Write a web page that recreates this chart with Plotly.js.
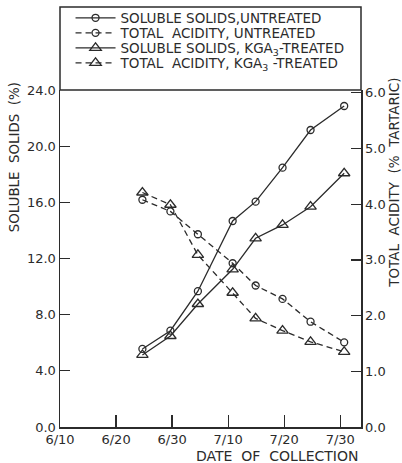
<!DOCTYPE html>
<html><head><meta charset="utf-8">
<script src="https://cdn.plot.ly/plotly-3.0.1.min.js"></script>
<style>html,body{margin:0;padding:0;background:#fff;}#c{width:402px;height:463px;}</style>
</head><body><div id="c"></div>
<script>
// days after 6/10
const collectionDays = [14.7, 19.7, 24.6, 30.8, 34.9, 39.7, 44.7, 50.7];
const solidsUntreated = [5.56, 6.86, 9.67, 14.67, 16.05, 18.47, 21.15, 22.86];
const acidityUntreated = [4.08, 3.87, 3.46, 2.94, 2.54, 2.30, 1.89, 1.52];
const solidsTreated = [5.13, 6.48, 8.76, 11.23, 13.44, 14.39, 15.69, 18.07];
const acidityTreated = [4.21, 3.99, 3.09, 2.41, 1.95, 1.73, 1.53, 1.35];
const xTickVals = [0, 10, 20, 30, 40, 50];
const xTickText = ["6/10", "6/20", "6/30", "7/10", "7/20", "7/30"];
const leftTicks = [0, 4, 8, 12, 16, 20, 24];
const rightTicks = [0, 1, 2, 3, 4, 5, 6];

const ink = "#2b2b2b";
const fnt = "'DejaVu Sans', sans-serif";

const traces = [
  {x: collectionDays, y: solidsUntreated, name: "SOLUBLE SOLIDS,UNTREATED", mode: "lines+markers", legend: "legend",
   line: {color: ink, width: 1.3}, marker: {symbol: "circle-open", size: 7, color: ink, line: {width: 1.3}}},
  {x: collectionDays, y: acidityUntreated, name: "TOTAL  ACIDITY, UNTREATED", yaxis: "y2", mode: "lines+markers", legend: "legend2",
   line: {color: ink, width: 1.3, dash: "6px,4px"}, marker: {symbol: "circle-open", size: 7, color: ink, line: {width: 1.3}}},
  {x: collectionDays, y: solidsTreated, name: "SOLUBLE SOLIDS, KGA<sub>3</sub>-TREATED", mode: "lines+markers", legend: "legend3",
   line: {color: ink, width: 1.3}, marker: {symbol: "triangle-up-open", size: 10, color: ink, line: {width: 1.3}}},
  {x: collectionDays, y: acidityTreated, name: "TOTAL  ACIDITY, KGA<sub>3</sub> -TREATED", yaxis: "y2", mode: "lines+markers", legend: "legend4",
   line: {color: ink, width: 1.3, dash: "6px,4px"}, marker: {symbol: "triangle-up-open", size: 10, color: ink, line: {width: 1.3}}}
];

function leg(y) {
  return {x: 0.035, y: y, xanchor: "left", yanchor: "middle", bgcolor: "rgba(0,0,0,0)", borderwidth: 0,
          font: {family: fnt, size: 13.5, color: ink}, itemwidth: 40};
}

const axisCommon = {tickcolor: ink, tickwidth: 1.3, showline: true, linecolor: ink, linewidth: 1.5,
                    showgrid: false, zeroline: false, tickfont: {family: fnt, size: 13, color: ink}};

const layout = {
  width: 402, height: 463,
  margin: {l: 60, r: 41, t: 90, b: 36, autoexpand: false},
  paper_bgcolor: "#fff", plot_bgcolor: "#fff",
  font: {family: fnt, size: 13, color: ink},
  showlegend: true,
  legend: leg(1.2136), legend2: leg(1.169), legend3: leg(1.1246), legend4: leg(1.080),
  xaxis: Object.assign({range: [0, 53.7], tickvals: xTickVals, ticktext: xTickText, ticks: "inside", ticklen: 12}, axisCommon),
  yaxis: Object.assign({range: [0, 24], tickvals: leftTicks, ticktext: leftTicks.map(v => v.toFixed(1)), ticks: "inside", ticklen: 10}, axisCommon),
  yaxis2: Object.assign({range: [0, 6.05], overlaying: "y", side: "right", tickvals: rightTicks,
           ticktext: rightTicks.map(v => v.toFixed(1)), ticks: "inside", ticklen: 10}, axisCommon),
  shapes: [
    {type: "rect", xref: "paper", yref: "paper", x0: 0, x1: 1, y0: 1, y1: 1 + 83/337,
     line: {color: ink, width: 1.5}, fillcolor: "rgba(0,0,0,0)"}
  ],
  annotations: [
    {text: "SOLUBLE  SOLIDS  (%)", xref: "paper", yref: "paper", x: -0.15, y: 0.80, textangle: -90,
     showarrow: false, font: {family: fnt, size: 13.4, color: ink}, xanchor: "center", yanchor: "middle"},
    {text: "TOTAL  ACIDITY  (%  TARTARIC)", xref: "paper", yref: "paper", x: 1.11, y: 0.725, textangle: -90,
     showarrow: false, font: {family: fnt, size: 13.5, color: ink}, xanchor: "center", yanchor: "middle"},
    {text: "DATE  OF  COLLECTION", xref: "paper", yref: "paper", x: 0.72, y: -0.086,
     showarrow: false, font: {family: fnt, size: 14, color: ink}, xanchor: "center", yanchor: "middle"}
  ]
};

Plotly.newPlot("c", traces, layout, {displayModeBar: false, staticPlot: true});
</script>
</body></html>
